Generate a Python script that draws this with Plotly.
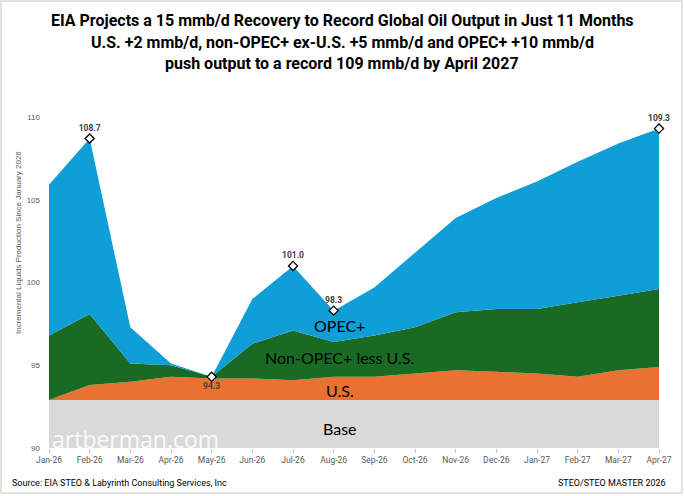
import plotly.graph_objects as go

months = ["Jan-26", "Feb-26", "Mar-26", "Apr-26", "May-26", "Jun-26", "Jul-26", "Aug-26",
          "Sep-26", "Oct-26", "Nov-26", "Dec-26", "Jan-27", "Feb-27", "Mar-27", "Apr-27"]
base = [92.9] * 16
us = [0.0, 0.9, 1.1, 1.4, 1.3, 1.3, 1.2, 1.4, 1.4, 1.6, 1.8, 1.7, 1.6, 1.4, 1.8, 2.0]
non_opec = [3.9, 4.3, 1.1, 0.7, 0.1, 2.1, 3.0, 2.1, 2.5, 2.8, 3.5, 3.8, 3.9, 4.5, 4.5, 4.7]
opec = [9.1, 10.6, 2.2, 0.1, 0.0, 2.7, 3.9, 1.9, 2.9, 4.5, 5.7, 6.7, 7.7, 8.5, 9.2, 9.7]
marked_idx = [1, 4, 6, 7, 15]
marked_pos = ["top center", "bottom center", "top center", "top center", "top center"]

C_BASE = "#D9D9D9"
C_US = "#E97132"
C_NON = "#196B24"
C_OPEC = "#0F9ED5"

x = list(range(len(months)))
fig = go.Figure()
for name, vals, col in [("Base", base, C_BASE), ("U.S.", us, C_US),
                        ("Non-OPEC+ less U.S.", non_opec, C_NON), ("OPEC+", opec, C_OPEC)]:
    fig.add_trace(go.Scatter(x=x, y=vals, name=name, stackgroup="one", mode="none",
                             fillcolor=col, line=dict(width=0), hoverinfo="skip"))

totals = [b + u + n + o for b, u, n, o in zip(base, us, non_opec, opec)]
mx = [x[i] for i in marked_idx]
my = [round(totals[i], 1) for i in marked_idx]
fig.add_trace(go.Scatter(x=mx, y=my, mode="markers+text",
                         marker=dict(symbol="diamond", size=7, color="white",
                                     line=dict(color="black", width=1.3)),
                         text=[f"{v:.1f}" for v in my], textposition=marked_pos,
                         textfont=dict(family="Roboto", size=8.5, color="#404040", weight="bold"),
                         cliponaxis=False, hoverinfo="skip", showlegend=False))

ann = []
title_lines = ["EIA Projects a 15 mmb/d Recovery to Record Global Oil Output in Just 11 Months",
               "U.S. +2 mmb/d, non-OPEC+ ex-U.S. +5 mmb/d and OPEC+ +10 mmb/d",
               "push output to a record 109 mmb/d by April 2027"]
for i, (t, py) in enumerate(zip(title_lines, [20, 42, 63])):
    ann.append(dict(text=t, xref="paper", yref="paper", x=(342 - 49) / 610,
                    y=(448 - py) / 331, xanchor="center", yanchor="middle", showarrow=False,
                    font=dict(family="Roboto", size=16, color="black", weight="bold")))
for t, yy in [("OPEC+", 97.4), ("Non-OPEC+ less U.S.", 95.45), ("U.S.", 93.45), ("Base", 91.2)]:
    ann.append(dict(text=t, x=7.15, y=yy, xref="x", yref="y", showarrow=False,
                    xanchor="center", yanchor="middle",
                    font=dict(family="Lato", size=16, color="black")))
ann.append(dict(text="artberman.com", xref="paper", yref="paper", x=(50 - 49) / 610,
                y=(448 - 439) / 331, xanchor="left", yanchor="middle", showarrow=False,
                font=dict(family="Open Sans", size=23, color="rgba(255,255,255,0.9)")))
ann.append(dict(text="Incremental Liquids Production Since January 2026", xref="paper",
                yref="paper", x=(18 - 49) / 610, y=(448 - 243) / 331, textangle=-90,
                xanchor="center", yanchor="middle", showarrow=False,
                font=dict(family="Liberation Sans", size=8, color="#595959")))
ann.append(dict(text="Source: EIA STEO & Labyrinth Consulting Services, Inc", xref="paper",
                yref="paper", x=(10 - 49) / 610, y=(448 - 483) / 331, xanchor="left",
                yanchor="middle", showarrow=False,
                font=dict(family="Roboto", size=9, color="black")))
ann.append(dict(text="STEO/STEO MASTER 2026", xref="paper", yref="paper",
                x=(668 - 49) / 610, y=(448 - 483) / 331, xanchor="right", yanchor="middle",
                showarrow=False,
                font=dict(family="Roboto", size=9, color="black")))

shapes = [dict(type="rect", xref="paper", yref="paper", x0=(1 - 49) / 610, x1=(682 - 49) / 610,
               y0=(448 - 493) / 331, y1=(448 - 1) / 331,
               line=dict(color="#D9D9D9", width=1.5), fillcolor="rgba(0,0,0,0)", layer="below")]

fig.update_layout(
    width=684, height=496, margin=dict(l=49, r=25, t=117, b=48),
    paper_bgcolor="white", plot_bgcolor="white", showlegend=False,
    annotations=ann, shapes=shapes,
    xaxis=dict(range=[0, 15], tickmode="array", tickvals=x, ticktext=months,
               showgrid=False, zeroline=False, showline=False, ticks="outside",
               ticklen=4, tickcolor="#BFBFBF",
               tickfont=dict(family="Roboto", size=8.5, color="#595959")),
    yaxis=dict(range=[90, 110], tickvals=[90, 95, 100, 105, 110], showgrid=False,
               zeroline=False, showline=False, ticks="", ticklabelstandoff=8,
               tickfont=dict(family="Liberation Sans", size=8, color="#595959")),
)
fig.write_html("out.html", config={"displayModeBar": False},
               post_script="document.body.style.margin='0';document.body.style.overflow='hidden';")
